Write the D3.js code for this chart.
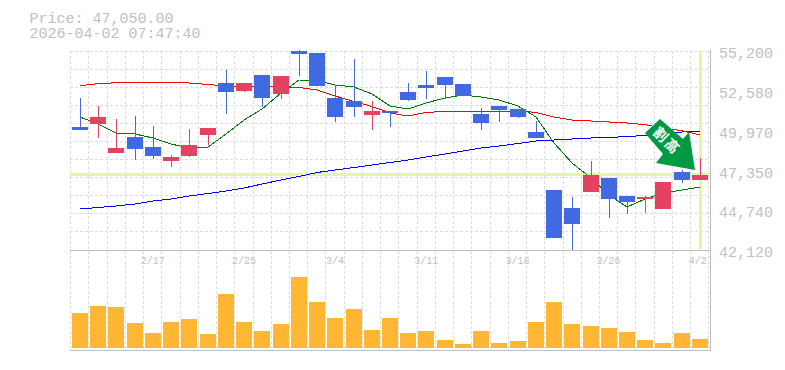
<!DOCTYPE html>
<html><head><meta charset="utf-8">
<script src="https://cdn.jsdelivr.net/npm/d3@7/dist/d3.min.js"></script>
<style>html,body{margin:0;padding:0;background:#fff}svg{display:block}
text{font-family:"Liberation Mono",monospace;fill:#c0c0c0}</style></head><body>
<svg id="c" width="785" height="370"></svg>
<script>
const dates=["2/10","2/12","2/13","2/16","2/17","2/18","2/19","2/20","2/24","2/25","2/26","2/27","3/2","3/3","3/4","3/5","3/6","3/9","3/10","3/11","3/12","3/13","3/16","3/17","3/18","3/19","3/23","3/24","3/25","3/26","3/27","3/30","3/31","4/1","4/2"];
const opens =[50205,50402,48495,49547,48890,47970,48298,49679,53097,52571,53622,52374,55200,55069,52111,51914,50993,51256,52505,52965,53491,53031,51059,51585,51388,49876,46063,44880,45932,46853,45669,45472,44815,47247,46721];
const closes=[50007,50862,48824,48758,48298,48233,49021,50139,52505,53097,52111,53557,55003,52900,50862,51519,51256,51125,51979,52768,52965,52242,50467,51322,50862,49481,42909,43829,47050,45472,45275,45603,46590,46721,47050];
const highs =[52111,51585,50730,50928,50270,48364,50073,50139,53951,53097,53622,53557,55266,55069,52965,54674,51914,51256,53097,53885,53491,53031,51453,51585,51388,50599,46063,45603,47970,46853,45669,45669,46590,47378,48167];
const lows  =[50007,49500,48495,48035,48101,47575,48233,49021,51059,52505,51519,52045,53557,52900,50533,50862,50007,50205,51914,52045,52045,52242,50007,50533,50796,49481,42909,42120,45932,44223,44486,44552,44815,46524,46721];
const maShort=[50862,50402,49810,49744,49481,49087,48824,48890,49744,50665,51388,52439,53294,53261,52965,52834,52374,51585,51388,51782,52111,52308,52176,51979,51585,50862,49153,47838,46853,45735,44946,45472,45866,46063,46261];
const maMid=[52919,53051,53116,53130,53130,53130,53097,52998,52899,52867,52853,52834,52801,52637,52242,51881,51552,51125,50928,51158,51236,51210,51190,51223,51276,51158,50862,50665,50599,50533,50467,50356,50139,49961,49679];
const maLong=[44815,44913,45012,45143,45341,45472,45669,45833,45998,46195,46458,46721,46951,47214,47378,47542,47707,47871,48035,48233,48430,48627,48824,48956,49120,49284,49350,49416,49481,49514,49580,49646,49744,49876,49942];
const volumes=[3500,4200,4100,2500,1500,2600,2900,1400,5400,2600,1700,2400,7100,4600,3000,3900,1800,3000,1500,1700,800,400,1700,500,700,2600,4600,2400,2200,2000,1600,800,500,1500,900];
const priceTicks=[55200,52580,49970,47350,44740,42120];
const dateTicks=["2/17","2/25","3/4","3/11","3/18","3/26","4/2"];
const titleLines=["Price: 47,050.00","2026-04-02 07:47:40"];
const lastPrice=47050, arrowLabel="割高";
const colUp="#e34360",colDown="#4169e1",colGrid="#dcdcdc",colFrame="#bdbdbd",colHi="#e4f5a6";

const svg=d3.select("#c");
const x=d3.scaleBand().domain(dates).range([70.7,708.9]);
const y=d3.scaleLinear().domain([42120,55200]).range([250,51]);
const v=d3.scaleLinear().domain([0,9800]).range([348,250]);
const cx=d=>Math.round(x(d)+1.3)+8;

// grid
const grid=svg.append("g").attr("stroke",colGrid).attr("stroke-dasharray","3,2").attr("shape-rendering","crispEdges");
d3.range(0,12).forEach(k=>{const p=42120+k*13080/11;
  grid.append("line").attr("x1",70).attr("x2",710).attr("y1",Math.floor(y(p))+.5).attr("y2",Math.floor(y(p))+.5);});
dates.forEach(d=>{const X=Math.floor(x(d))+.5;
  grid.append("line").attr("x1",X).attr("x2",X).attr("y1",51).attr("y2",350);});
{const X=708.5;grid.append("line").attr("x1",X).attr("x2",X).attr("y1",51).attr("y2",350);}

// highlight cross
const last=dates[dates.length-1];
svg.append("rect").attr("x",70).attr("width",640).attr("y",y(lastPrice)-2).attr("height",3).attr("fill",colHi);
svg.append("rect").attr("x",cx(last)-1).attr("width",3).attr("y",51).attr("height",198).attr("fill",colHi);

// frame
const frame=svg.append("g").attr("stroke",colFrame).attr("stroke-width",1).attr("shape-rendering","crispEdges");
frame.append("line").attr("x1",70).attr("x2",711).attr("y1",250.5).attr("y2",250.5);
frame.append("line").attr("x1",70).attr("x2",711).attr("y1",350.5).attr("y2",350.5);
frame.append("line").attr("x1",710.5).attr("x2",710.5).attr("y1",50).attr("y2",351);

// lines
const ln=a=>d3.line().x((_,i)=>cx(dates[i])).y(p=>y(p))(a);
[[maLong,"#0000ff",1],[maMid,"#ff0000",1],[maShort,"#007a00",1]].forEach(([a,c,w])=>
  svg.append("path").attr("d",ln(a)).attr("fill","none").attr("stroke",c).attr("stroke-width",w).attr("shape-rendering","crispEdges"));

// candles
const cg=svg.append("g").attr("shape-rendering","crispEdges");
dates.forEach((d,i)=>{
  const up=closes[i]>=opens[i], col=up?colUp:colDown, X=cx(d);
  cg.append("line").attr("x1",X+.5).attr("x2",X+.5).attr("y1",y(highs[i])).attr("y2",y(lows[i])).attr("stroke",col);
  const t=y(Math.max(opens[i],closes[i])), b=y(Math.min(opens[i],closes[i]));
  cg.append("rect").attr("x",X-8).attr("width",16).attr("y",t).attr("height",Math.max(1,b-t)).attr("fill",col);
});

// volume
svg.append("g").selectAll("rect").data(dates).join("rect")
 .attr("x",d=>cx(d)-8).attr("width",16).attr("shape-rendering","crispEdges")
 .attr("y",(d,i)=>v(volumes[i])).attr("height",(d,i)=>348-v(volumes[i])).attr("fill","#ffb733");

// axes
const ay=svg.append("g").attr("transform","translate(710,0)").call(d3.axisRight(y).tickValues(priceTicks).tickSize(0).tickPadding(9).tickFormat(d3.format(",")));
ay.select(".domain").remove();
ay.selectAll("text").attr("font-size",15).attr("dy","0.45em").style("fill","#c0c0c0");
const ax=svg.append("g").attr("transform","translate(0,250)").call(d3.axisBottom(x).tickValues(dateTicks).tickSize(0).tickPadding(7));
ax.select(".domain").remove();
ax.selectAll("text").attr("font-size",10).style("fill","#c0c0c0");
ax.selectAll("text").filter(d=>d==="4/2").attr("dx",-2);

// title
svg.append("g").selectAll("text").data(titleLines).join("text").attr("x",29.5).attr("y",(d,i)=>23+i*15).attr("font-size",15).text(d=>d);

// arrow
const ag=svg.append("g").attr("transform",`translate(${cx(last)},${y(lastPrice)})`);
const pts=[[-40,-56],[-55,-42],[-37,-21],[-44,-12],[-5,-5],[-11,-43],[-17,-36]];
ag.append("polygon").attr("points",pts.map(p=>p.join(",")).join(" ")).attr("fill","#009944");
ag.append("text").attr("transform","translate(-33,-34) rotate(45)").attr("text-anchor","middle").attr("dy","0.35em").attr("font-size",14).attr("letter-spacing",2).attr("font-weight","bold").style("font-family","'Noto Sans CJK JP'").style("fill","#fff").text(arrowLabel);
</script></body></html>
